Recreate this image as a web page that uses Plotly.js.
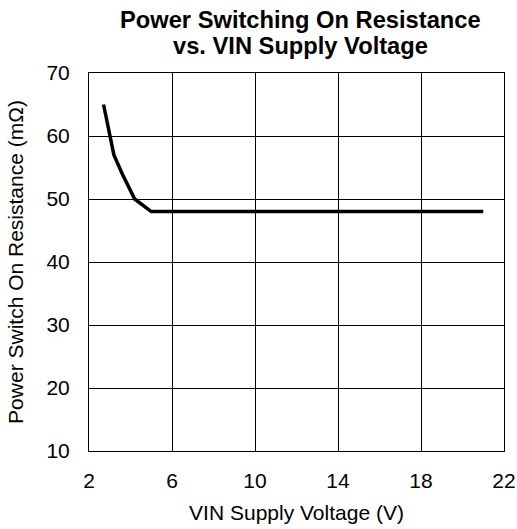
<!DOCTYPE html>
<html><head><meta charset="utf-8">
<script src="https://cdn.plot.ly/plotly-3.0.1.min.js"></script>
<style>html,body{margin:0;padding:0;background:#fff}</style>
</head><body>
<div id="chart" style="width:517px;height:529px"></div>
<script>
const vinVoltage = [2.7, 3.2, 3.6, 4.2, 5.0, 8, 12, 16, 21];
const onResistance = [65, 57, 54, 50, 48, 48, 48, 48, 48];
const xTicks = [2, 6, 10, 14, 18, 22];
const yTicks = [10, 20, 30, 40, 50, 60, 70];
const titleLines = ['Power Switching On Resistance', 'vs. VIN Supply Voltage'];

Plotly.newPlot('chart', [{
  x: vinVoltage, y: onResistance, type: 'scatter', mode: 'lines',
  line: {color: '#000', width: 3.5}, hoverinfo: 'skip'
}], {
  width: 517, height: 529,
  margin: {l: 89, r: 13, t: 73, b: 78},
  paper_bgcolor: '#fff', plot_bgcolor: '#fff',
  font: {family: 'Liberation Sans, Arial, sans-serif', color: '#000', size: 21},
  annotations: titleLines.map((t, i) => ({
    text: '<b>' + t + '</b>', xref: 'paper', yref: 'paper', x: 0.51, xanchor: 'center',
    y: 1 + (73 - 20 - 26 * i) / 378, yanchor: 'middle', showarrow: false,
    font: {size: 23.7, color: '#000'}
  })),
  xaxis: {range: [2, 22], tickvals: xTicks, showgrid: true, gridcolor: '#000', gridwidth: 1,
    zeroline: false, showline: true, linecolor: '#000', mirror: true, ticks: '',
    ticklabelstandoff: 11,
    title: {text: 'VIN Supply Voltage (V)', standoff: 14, font: {size: 21}}},
  yaxis: {range: [10, 70], tickvals: yTicks, showgrid: true, gridcolor: '#000', gridwidth: 1,
    zeroline: false, showline: true, linecolor: '#000', mirror: true, ticks: '',
    ticklabelstandoff: 14,
    title: {text: 'Power Switch On Resistance (mΩ)', standoff: 17, font: {size: 21}}},
  showlegend: false
}, {displayModeBar: false, staticPlot: true});
</script>
</body></html>
